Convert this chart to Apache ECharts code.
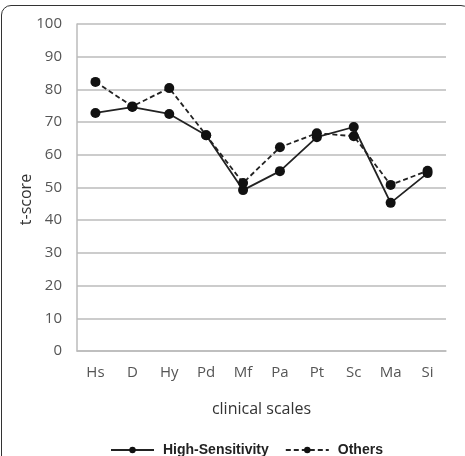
<!DOCTYPE html>
<html>
<head>
<meta charset="utf-8">
<script src="https://cdn.jsdelivr.net/npm/echarts@6/dist/echarts.min.js"></script>
<style>
    html, body { margin: 0; padding: 0; background: #fff; }
    .frame {
        position: absolute; left: 1px; top: 5px; width: 470px; height: 470px;
        border: 1.5px solid #333; border-radius: 10px; box-sizing: border-box;
    }
    #chart { position: absolute; left: 0; top: 0; width: 465px; height: 456px; }
</style>
</head>
<body>
<div class="frame"></div>
<div id="chart"></div>
<script>
// data
const scales = ['Hs', 'D', 'Hy', 'Pd', 'Mf', 'Pa', 'Pt', 'Sc', 'Ma', 'Si']
const highSensitivity = [72.8, 74.6, 72.5, 66, 49.2, 55, 65.4, 68.5, 45.3, 54.4]
const others = [82.3, 74.8, 80.4, 66, 51.4, 62.3, 66.6, 65.7, 50.8, 55.1]

const chart = echarts.init(document.getElementById('chart'))
const labelStyle = { color: '#555', fontSize: 15, fontFamily: 'Open Sans' }

chart.setOption({
    animation: false,
    grid: { left: 77, right: 19, top: 24, bottom: 105 },
    legend: {
        top: 438,
        left: 105,
        itemGap: 16,
        itemWidth: 43,
        itemHeight: 8,
        textStyle: { color: '#222', fontSize: 14, fontWeight: 'bold', fontFamily: 'Liberation Sans', padding: [0, 0, 0, 4] },
        data: ['High-Sensitivity', 'Others']
    },
    xAxis: {
        type: 'category',
        data: scales,
        name: 'clinical scales',
        nameLocation: 'middle',
        nameGap: 50,
        nameTextStyle: { color: '#333', fontSize: 16, fontFamily: 'Open Sans' },
        axisLine: { lineStyle: { color: '#bbb', width: 1.5 } },
        axisTick: { show: false },
        axisLabel: Object.assign({ margin: 14 }, labelStyle)
    },
    yAxis: {
        type: 'value',
        min: 0, max: 100, interval: 10,
        name: 't-score',
        nameLocation: 'middle',
        nameGap: 43,
        nameMoveOverlap: false,
        nameTextStyle: { color: '#333', fontSize: 16, fontFamily: 'Open Sans', padding: [0, 24, 0, 0] },
        axisLine: { show: true, lineStyle: { color: '#bbb', width: 1.5 } },
        axisLabel: Object.assign({ margin: 15 }, labelStyle),
        splitLine: { lineStyle: { color: '#bbb', width: 1.5 } }
    },
    series: [
        {
            name: 'High-Sensitivity',
            type: 'line',
            data: highSensitivity,
            symbol: 'circle',
            symbolSize: 10,
            itemStyle: { color: '#111' },
            lineStyle: { color: '#222', width: 1.8 }
        },
        {
            name: 'Others',
            type: 'line',
            data: others,
            symbol: 'circle',
            symbolSize: 10,
            itemStyle: { color: '#111' },
            lineStyle: { color: '#222', width: 1.8, type: [5, 3] }
        }
    ]
})
</script>
</body>
</html>
